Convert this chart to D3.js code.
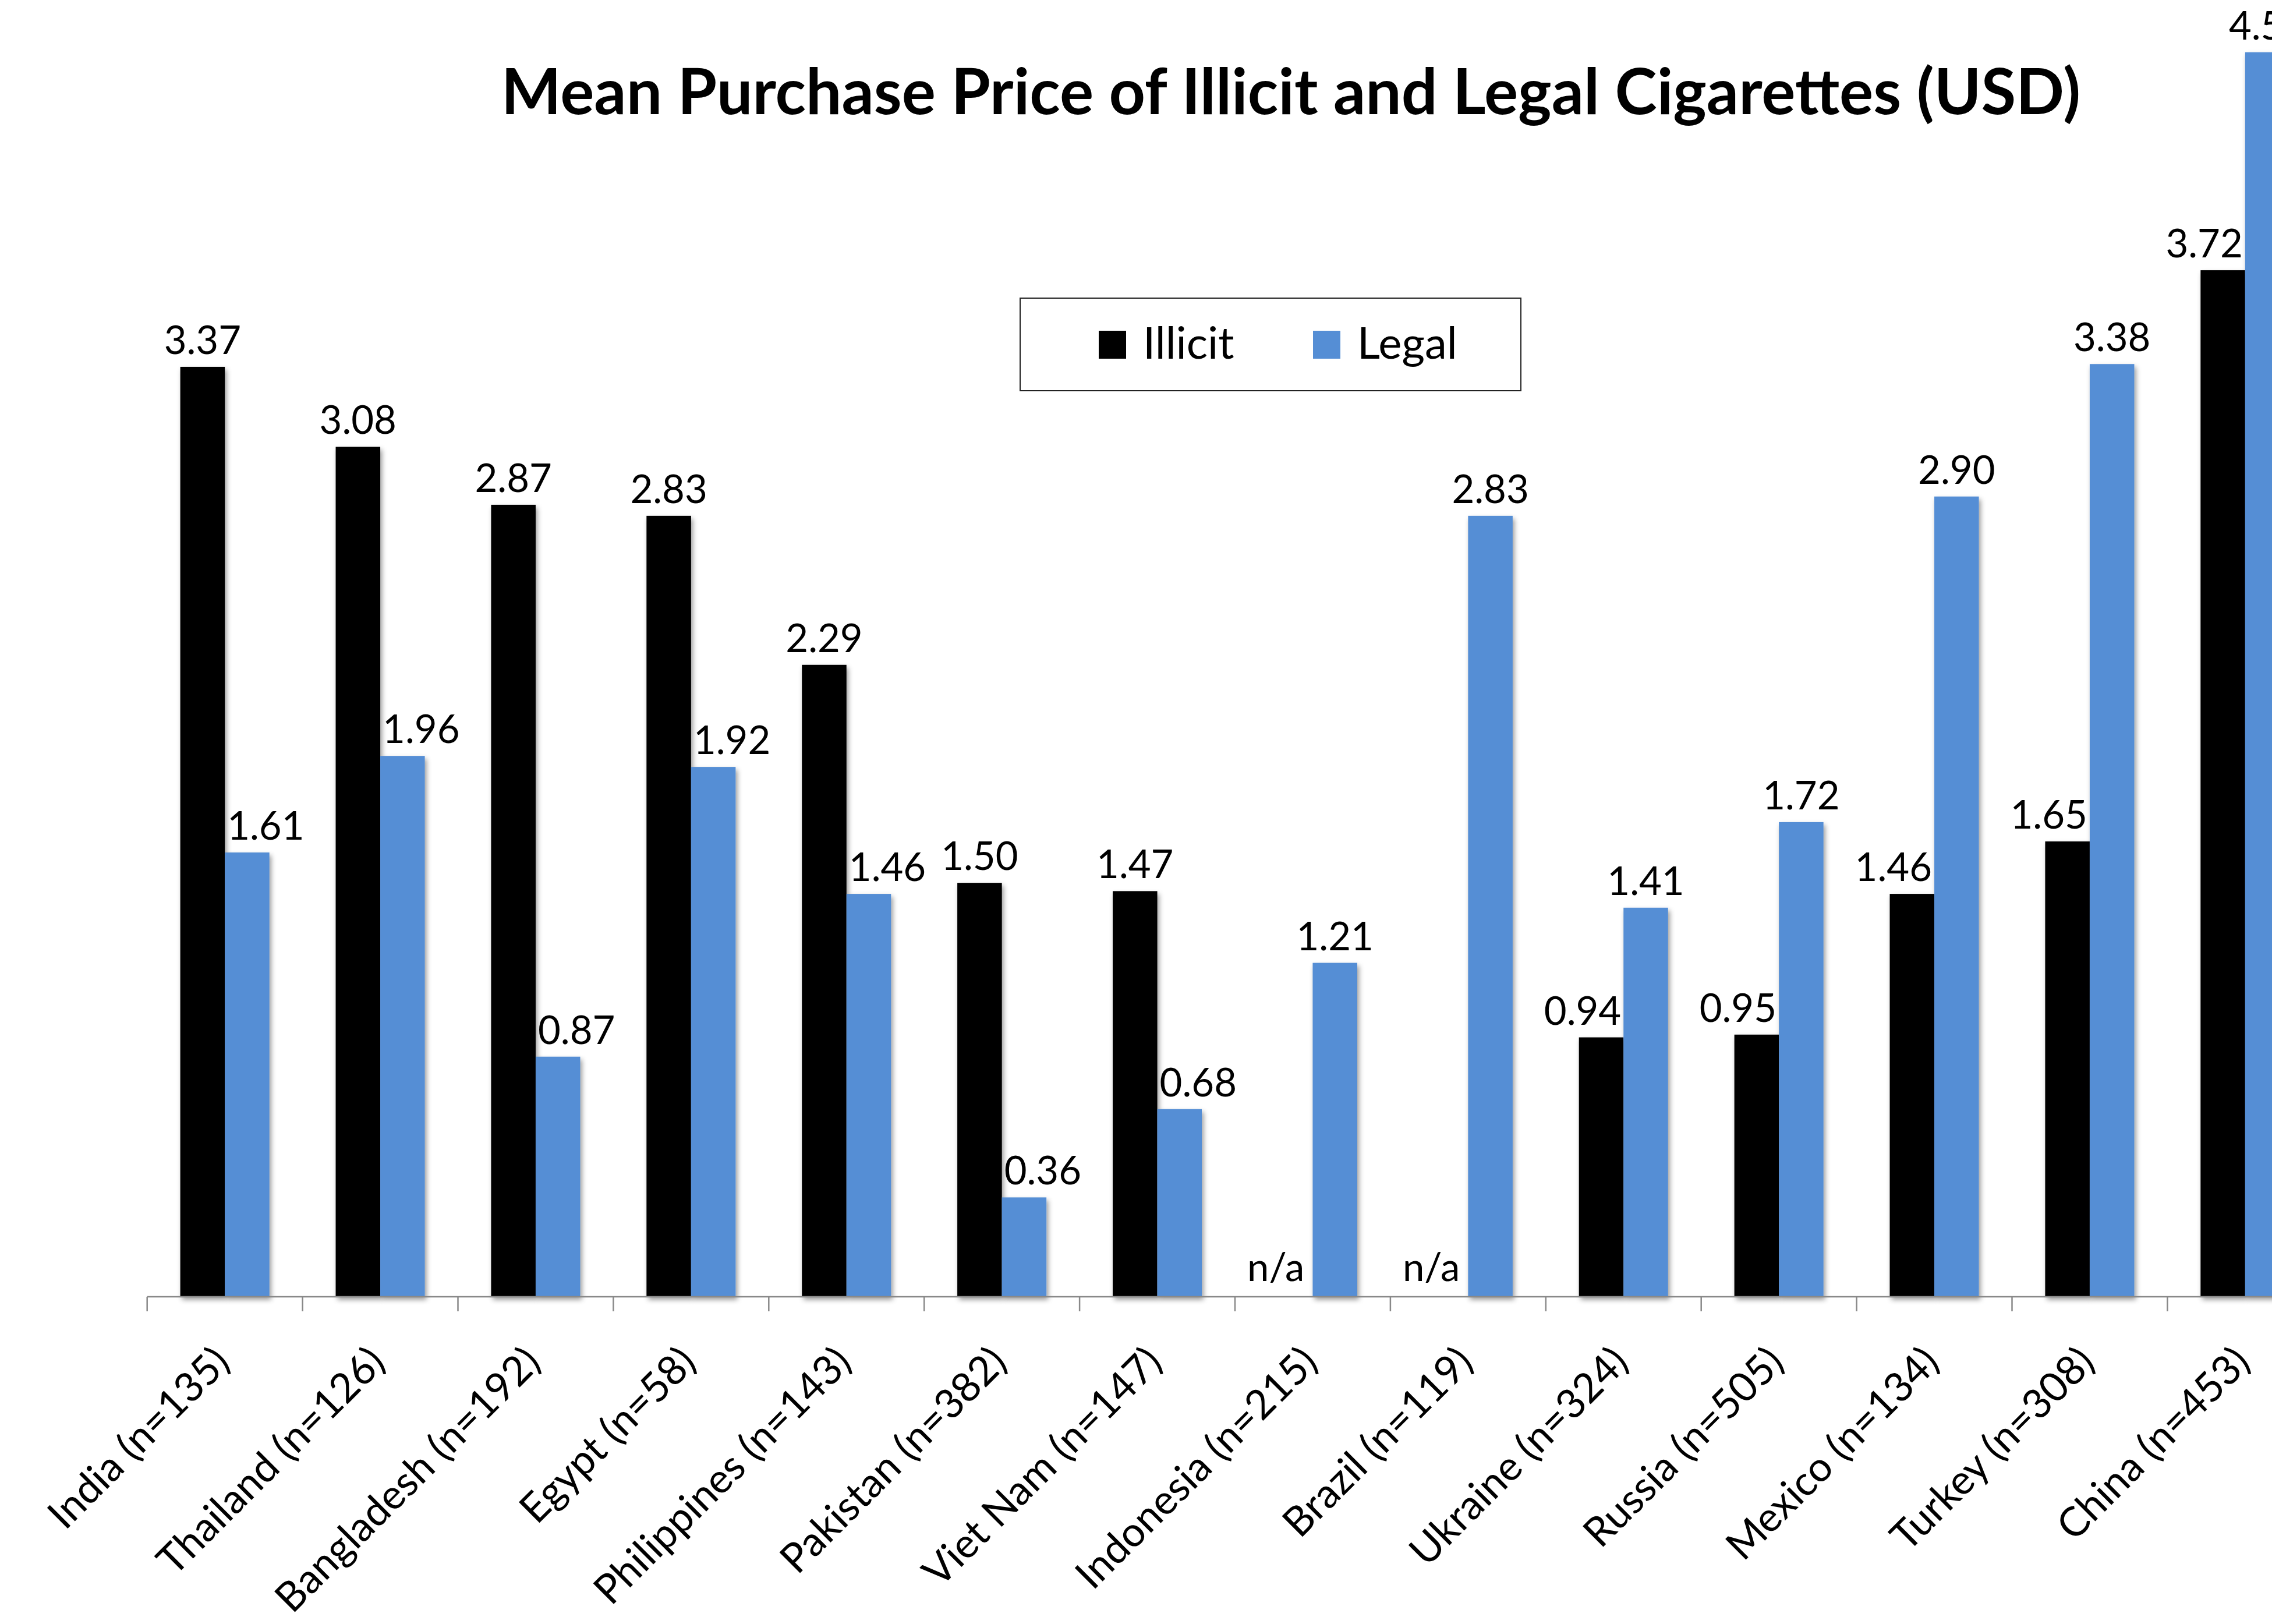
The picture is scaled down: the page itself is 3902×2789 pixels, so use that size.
<!DOCTYPE html>
<html>
<head>
<meta charset="utf-8">
<script src="https://cdn.jsdelivr.net/npm/d3@7"></script>
<style>
  body { margin: 0; background: #fff; overflow: hidden; }
  text { font-family: Lato, "Open Sans", sans-serif; fill: #000; }
</style>
</head>
<body>
<svg id="chart"></svg>
<script>
    var categories = ["India (n=135)", "Thailand (n=126)", "Bangladesh (n=192)", "Egypt (n=58)",
        "Philippines (n=143)", "Pakistan (n=382)", "Viet Nam (n=147)", "Indonesia (n=215)",
        "Brazil (n=119)", "Ukraine (n=324)", "Russia (n=505)", "Mexico (n=134)",
        "Turkey (n=308)", "China (n=453)"];
    var seriesNames = ["Illicit", "Legal"];
    var illicit = [3.37, 3.08, 2.87, 2.83, 2.29, 1.50, 1.47, null, null, 0.94, 0.95, 1.46, 1.65, 3.72];
    var legal = [1.61, 1.96, 0.87, 1.92, 1.46, 0.36, 0.68, 1.21, 2.83, 1.41, 1.72, 2.90, 3.38, 4.51];
    var colors = ["#000000", "#558ed5"];
    var title = "Mean Purchase Price of Illicit and Legal Cigarettes (USD)";

    var W = 3902, H = 2789;
    var baseY = 2227;

    var svg = d3.select("#chart").attr("width", W).attr("height", H);

    var defs = svg.append("defs");
    defs.append("filter")
        .attr("id", "shadow")
        .attr("x", "-20%").attr("y", "-20%").attr("width", "140%").attr("height", "140%")
        .append("feDropShadow")
        .attr("dx", 3).attr("dy", 5)
        .attr("stdDeviation", 4)
        .attr("flood-color", "#000")
        .attr("flood-opacity", 0.4);

    var xS = d3.scaleBand()
        .domain(categories)
        .range([252.7, 252.7 + 266.9 * categories.length])
        .padding(0);

    var xInner = d3.scaleBand()
        .domain(seriesNames)
        .range([0, xS.bandwidth()])
        .paddingInner(0)
        .paddingOuter(0.744);

    var yS = d3.scaleLinear()
        .domain([0, 5])
        .range([baseY, baseY - 5 * 473.9]);

    var rows = categories.map(function(c, i) {
        return {cat: c, vals: [illicit[i], legal[i]]};
    });

    // bars
    var groups = svg.append("g").selectAll("g")
        .data(rows)
        .enter().append("g")
        .attr("transform", function(d) { return "translate(" + xS(d.cat) + ",0)"; });

    groups.selectAll("rect")
        .data(function(d) {
            return d.vals.map(function(v, j) { return {s: seriesNames[j], v: v, j: j}; });
        })
        .enter().filter(function(d) { return d.v !== null; })
        .append("rect")
        .attr("x", function(d) { return xInner(d.s); })
        .attr("width", xInner.bandwidth())
        .attr("y", function(d) { return yS(d.v); })
        .attr("height", function(d) { return yS(0) - yS(d.v); })
        .attr("fill", function(d) { return colors[d.j]; })
        .attr("filter", "url(#shadow)");

    // axis
    var axis = svg.append("g");
    axis.append("line")
        .attr("x1", xS.range()[0]).attr("x2", xS.range()[1])
        .attr("y1", baseY).attr("y2", baseY)
        .attr("stroke", "#898989").attr("stroke-width", 2.5);
    axis.selectAll(".tick")
        .data(categories)
        .enter().append("line")
        .attr("x1", function(d) { return xS(d); })
        .attr("x2", function(d) { return xS(d); })
        .attr("y1", baseY).attr("y2", baseY + 25)
        .attr("stroke", "#898989").attr("stroke-width", 2.5);

    axis.selectAll(".cat")
        .data(categories)
        .enter().append("text")
        .attr("transform", function(d) {
            return "translate(" + (xS(d) + xS.bandwidth() / 2 + 12) + "," + (baseY + 116) + ") rotate(-45)";
        })
        .attr("text-anchor", "end")
        .attr("font-size", 70)
        .text(function(d) { return d; });

    // data labels
    var fmt = d3.format(".2f");
    groups.selectAll(".lbl")
        .data(function(d) {
            var a = d.vals[0], b = d.vals[1];
            return d.vals.map(function(v, j) {
                var shift = 0;
                if (j === 0 && (a === null || a < b)) shift = a === null ? -25 : -32;
                if (j === 1 && a !== null && b < a) shift = 32;
                return {s: seriesNames[j], v: v, shift: shift};
            });
        })
        .enter().append("text")
        .attr("x", function(d) { return xInner(d.s) + xInner.bandwidth() / 2 + d.shift; })
        .attr("y", function(d) { return yS(d.v === null ? 0 : d.v) - (d.v === null ? 27 : 22); })
        .attr("text-anchor", "middle")
        .attr("font-size", 67)
        .text(function(d) { return d.v === null ? "n/a" : fmt(d.v); });

    // title
    svg.append("text")
        .attr("x", 2217)
        .attr("y", 196)
        .attr("text-anchor", "middle")
        .attr("font-size", 109)
        .attr("font-weight", "bold")
        .text(title);

    // legend
    var legend = svg.append("g");
    legend.append("rect")
        .attr("x", 1752).attr("y", 512)
        .attr("width", 860).attr("height", 159)
        .attr("fill", "#fff")
        .attr("stroke", "#222").attr("stroke-width", 2);
    var legX = [1887, 2255];
    var items = legend.selectAll(".item")
        .data(seriesNames)
        .enter().append("g")
        .attr("transform", function(d, i) { return "translate(" + legX[i] + ",616)"; });
    items.append("rect")
        .attr("x", 0).attr("y", -48)
        .attr("width", 47).attr("height", 48)
        .attr("fill", function(d, i) { return colors[i]; });
    items.append("text")
        .attr("x", 76).attr("y", 0)
        .attr("font-size", 76)
        .text(function(d) { return d; });
</script>
</body>
</html>
